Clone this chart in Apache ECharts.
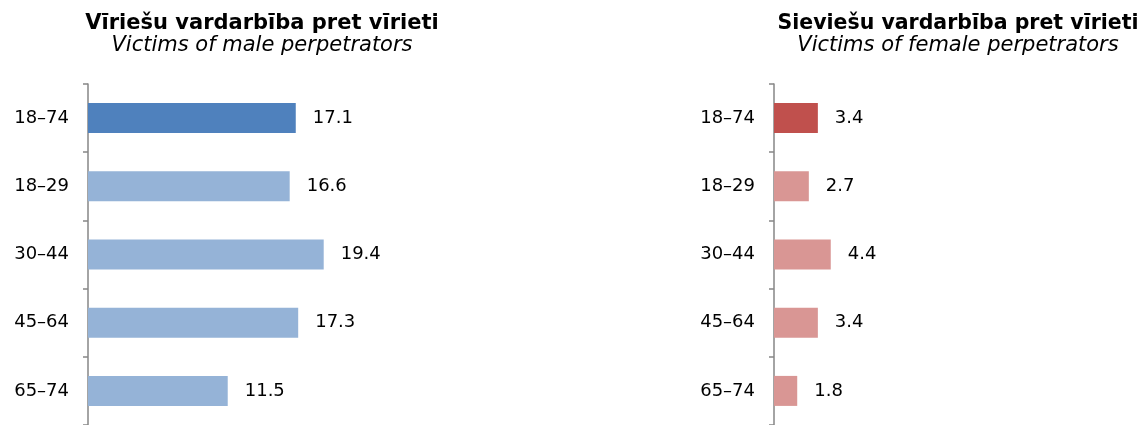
<!DOCTYPE html>
<html lang="lv">
<head>
<meta charset="UTF-8">
<title>Vardarbība pret vīrieti</title>
<script src="https://cdn.jsdelivr.net/npm/echarts@6/dist/echarts.min.js"></script>
<style>
    html, body { margin: 0; padding: 0; background: #fff; }
    #chart { width: 1143px; height: 425px; }
</style>
</head>
<body>
<div id="chart"></div>
<script>
    var ageGroups = ['18–74', '18–29', '30–44', '45–64', '65–74'];
    var maleValues = [17.1, 16.6, 19.4, 17.3, 11.5];
    var femaleValues = [3.4, 2.7, 4.4, 3.4, 1.8];

    var font = 'Verdana, "DejaVu Sans", sans-serif';

    // first bar (total) is darker
    function paint(values, dark, light) {
        return values.map(function (v, i) {
            return { value: v, itemStyle: { color: i === 0 ? dark : light } };
        });
    }

    function catAxis(idx) {
        return {
            type: 'category',
            gridIndex: idx,
            data: ageGroups,
            inverse: true,
            axisLine: { show: true, lineStyle: { color: '#868686', width: 1.5 } },
            axisTick: { show: true, length: 5, lineStyle: { color: '#868686', width: 1.5 } },
            axisLabel: { margin: 19, fontFamily: font, fontSize: 18, color: '#000' }
        };
    }

    function valAxis(idx, max) {
        return {
            type: 'value',
            gridIndex: idx,
            min: 0,
            max: max,
            show: false
        };
    }

    function barSeries(idx, values, dark, light) {
        return {
            type: 'bar',
            xAxisIndex: idx,
            yAxisIndex: idx,
            data: paint(values, dark, light),
            barWidth: 30,
            label: {
                show: true,
                position: 'right',
                distance: 17,
                fontFamily: font,
                fontSize: 18,
                color: '#000',
                formatter: function (p) { return p.value.toFixed(1); }
            }
        };
    }

    var chart = echarts.init(document.getElementById('chart'));
    chart.setOption({
        animation: false,
        title: [
            {
                text: 'Vīriešu vardarbība pret vīrieti',
                subtext: 'Victims of male perpetrators',
                left: 257, top: 8, textAlign: 'center', itemGap: 1,
                textStyle: { fontFamily: font, fontSize: 21, fontWeight: 'bold', color: '#000' },
                subtextStyle: { fontFamily: font, fontSize: 21, fontStyle: 'italic', color: '#000' }
            },
            {
                text: 'Sieviešu vardarbība pret vīrieti',
                subtext: 'Victims of female perpetrators',
                left: 953, top: 8, textAlign: 'center', itemGap: 1,
                textStyle: { fontFamily: font, fontSize: 20.5, fontWeight: 'bold', color: '#000' },
                subtextStyle: { fontFamily: font, fontSize: 21, fontStyle: 'italic', color: '#000' }
            }
        ],
        grid: [
            { left: 88, top: 84, width: 243, height: 346 },
            { left: 774, top: 84, width: 129, height: 346 }
        ],
        xAxis: [valAxis(0, 20), valAxis(1, 10)],
        yAxis: [catAxis(0), catAxis(1)],
        series: [
            barSeries(0, maleValues, '#4F81BD', '#95B3D7'),
            barSeries(1, femaleValues, '#C0504D', '#D99694')
        ]
    });
</script>
</body>
</html>
